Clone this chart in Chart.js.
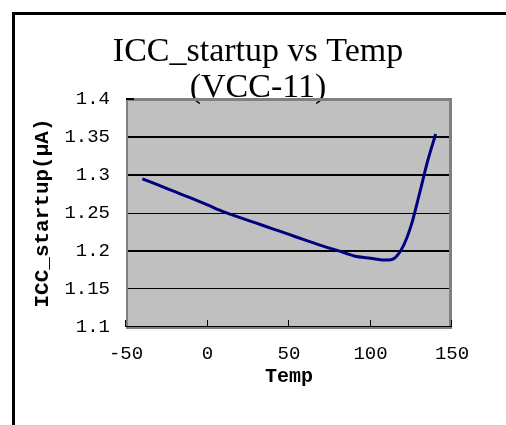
<!DOCTYPE html>
<html>
<head>
<meta charset="utf-8">
<script src="https://cdn.jsdelivr.net/npm/chart.js@4"></script>
<style>
  body { margin: 0; background: #fff; }
  #frame { position: absolute; left: 12px; top: 12px; width: 520px; height: 440px;
           border-left: 3px solid #000; border-top: 3px solid #000; }
  #wrap { position: absolute; left: 0; top: 0; width: 506px; height: 425px; }
</style>
</head>
<body>
<div id="frame"></div>
<div id="wrap"><canvas id="chart"></canvas></div>
<script>
// temperatures (deg C) and startup current
const temps = [-40, -30, -20, -10, 0, 10, 20, 30, 40, 50, 60, 70, 80, 90, 100, 110, 115, 120, 125, 130, 135, 140];
const iccStartup = [1.295, 1.2866, 1.278, 1.2695, 1.2606, 1.2515, 1.244, 1.2366, 1.2292, 1.2218, 1.2143, 1.207,
                    1.2005, 1.1935, 1.1905, 1.188, 1.191, 1.206, 1.234, 1.275, 1.318, 1.354];
const titleLines = ['ICC_startup vs Temp', '(VCC-11)'];
const xTitle = 'Temp';
const yTitle = 'ICC_startup(\u03bcA)';

// gray plot box with black bottom axis and inside tick marks
const plotBox = {
    id: 'plotBox',
    beforeDraw(chart) {
        const {ctx, chartArea: a} = chart;
        ctx.save();
        ctx.fillStyle = '#c0c0c0';
        ctx.fillRect(a.left, a.top, a.right - a.left, a.bottom - a.top);
        ctx.restore();
    },
    afterDraw(chart) {
        const {ctx, chartArea: a} = chart;
        ctx.save();
        ctx.fillStyle = '#808080';
        ctx.fillRect(a.left, a.top - 1, a.right - a.left, 3);   // top
        ctx.fillRect(a.left, a.top, 2, a.bottom - a.top);       // left
        ctx.fillRect(a.right - 3, a.top, 3, a.bottom - a.top + 2); // right
        ctx.fillRect(a.left, a.bottom, a.right - a.left, 2);    // below axis
        ctx.fillStyle = '#000';
        ctx.fillRect(a.left, a.bottom - 1, a.right - a.left, 1);
        ctx.fillRect(a.left, a.top - 1, 8, 2);
        // x tick marks pointing up into the plot
        const x = chart.scales.x;
        x.ticks.forEach(t => {
            const px = Math.round(x.getPixelForValue(t.value));
            ctx.fillRect(px - 1, a.bottom - 7, 1, 7);
        });
        ctx.restore();
    }
};

new Chart(document.getElementById('chart'), {
    type: 'line',
    data: {
        labels: temps,
        datasets: [{
            data: temps.map((t, i) => ({x: t, y: iccStartup[i]})),
            borderColor: '#000080',
            borderWidth: 3,
            pointRadius: 0,
            cubicInterpolationMode: 'monotone',
            fill: false
        }]
    },
    options: {
        responsive: true,
        maintainAspectRatio: false,
        devicePixelRatio: 1,
        animation: false,
        layout: { padding: { left: 64, right: 54, top: 0, bottom: 0 } },
        plugins: {
            legend: { display: false },
            tooltip: { enabled: false },
            title: {
                display: true,
                text: titleLines,
                color: '#000',
                font: { family: 'Liberation Serif', size: 34, weight: 'normal', lineHeight: '36px' },
                padding: { top: 34, bottom: -7 }
            }
        },
        scales: {
            x: {
                type: 'linear',
                min: -50, max: 150,
                afterFit(s) { s.height = 98; },
                ticks: { stepSize: 50, color: '#000', padding: 16, maxRotation: 0,
                         font: { family: 'Liberation Mono', size: 19 } },
                grid: { display: false, drawTicks: false },
                border: { display: false },
                title: { display: true, text: xTitle, color: '#000',
                         font: { family: 'Liberation Mono', size: 20, weight: 'bold', lineHeight: '24px' },
                         padding: { top: 0, bottom: 36 } }
            },
            y: {
                min: 1.1, max: 1.4,
                afterFit(s) { s.width = 62; },
                ticks: { stepSize: 0.05, color: '#000', padding: 16,
                         font: { family: 'Liberation Mono', size: 19 },
                         callback: v => String(Math.round(v * 100) / 100) },
                grid: {
                    drawTicks: false,
                    color: c => (c.tick && c.tick.value > 1.39) ? 'rgba(0,0,0,0)' : '#000',
                    lineWidth: c => {
                        const v = c.tick ? Math.round(c.tick.value * 100) : 0;
                        return (v === 135 || v === 130 || v === 120) ? 2 : 1;
                    }
                },
                border: { display: false },
                title: { display: true, text: yTitle, color: '#000',
                         font: { family: 'Liberation Mono', size: 21, weight: 'bold', lineHeight: '24px' },
                         padding: { top: -33, bottom: 0 } }
            }
        }
    },
    plugins: [plotBox]
});
</script>
</body>
</html>
